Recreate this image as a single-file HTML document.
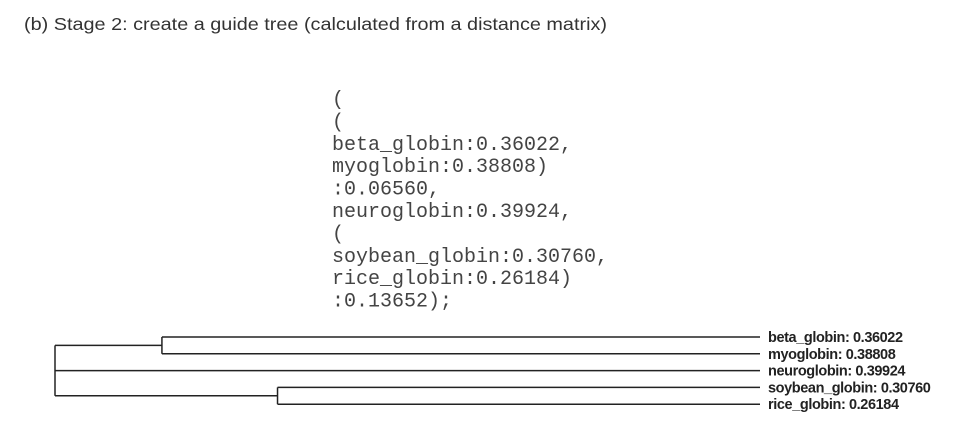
<!DOCTYPE html>
<html><head><meta charset="utf-8"><style>
html,body{margin:0;padding:0;background:#fff;width:968px;height:448px;overflow:hidden}
</style></head><body>
<svg width="968" height="448" viewBox="0 0 968 448">
<text x="24" y="30" font-family="Liberation Sans, sans-serif" font-size="17.5" fill="#333" textLength="583" lengthAdjust="spacingAndGlyphs">(b) Stage 2: create a guide tree (calculated from a distance matrix)</text>
<g id="newick" font-family="Liberation Mono, monospace" font-size="20" fill="#444"></g>
<g id="tree" stroke="#222" stroke-width="1.5" fill="none"></g>
<g id="labels" font-family="Liberation Sans, sans-serif" font-weight="bold" font-size="14.5" fill="#222"></g>
</svg>
<script>
const newickLines = ["(", "(", "beta_globin:0.36022,", "myoglobin:0.38808)", ":0.06560,", "neuroglobin:0.39924,", "(", "soybean_globin:0.30760,", "rice_globin:0.26184)", ":0.13652);"];
const leafNames = ["beta_globin", "myoglobin", "neuroglobin", "soybean_globin", "rice_globin"];
const leafLengths = ["0.36022", "0.38808", "0.39924", "0.30760", "0.26184"];
const cladeLengths = [0.06560, 0.13652];
const NS = "http://www.w3.org/2000/svg";
const ng = document.getElementById('newick');
newickLines.forEach((t, i) => {
  const el = document.createElementNS(NS, 'text');
  
  
  el.setAttribute('x', 332);
  el.setAttribute('y', 105 + i * 22.4);
  el.textContent = t;
  ng.appendChild(el);
});
const rootX = 55, tipX = 760, pxPerUnit = 1630;
const xs = v => rootX + v * pxPerUnit;
const leafY = i => 337 + i * 16.8;
const tg = document.getElementById('tree');
function line(x1, y1, x2, y2, name) {
  const l = document.createElementNS(NS, 'line');
  
  
  l.setAttribute('x1', x1); l.setAttribute('y1', y1);
  l.setAttribute('x2', x2); l.setAttribute('y2', y2);
  tg.appendChild(l);
}
const c1x = xs(cladeLengths[0]), c2x = xs(cladeLengths[1]);
const c1y = (leafY(0) + leafY(1)) / 2, c2y = (leafY(3) + leafY(4)) / 2;
line(rootX, c1y, rootX, c2y, 'root-vertical');
line(rootX, c1y, c1x, c1y, 'clade1-branch');
line(c1x, leafY(0), c1x, leafY(1), 'clade1-vertical');
line(c1x, leafY(0), tipX, leafY(0), 'branch-beta');
line(c1x, leafY(1), tipX, leafY(1), 'branch-myo');
line(rootX, leafY(2), tipX, leafY(2), 'branch-neuro');
line(rootX, c2y, c2x, c2y, 'clade2-branch');
line(c2x, leafY(3), c2x, leafY(4), 'clade2-vertical');
line(c2x, leafY(3), tipX, leafY(3), 'branch-soybean');
line(c2x, leafY(4), tipX, leafY(4), 'branch-rice');
const lg = document.getElementById('labels');
leafNames.forEach((n, i) => {
  const el = document.createElementNS(NS, 'text');
  
  
  el.setAttribute('x', 768);
  el.setAttribute('y', leafY(i) + 5);
  el.setAttribute('letter-spacing', '-0.4');
  el.textContent = n + ': ' + leafLengths[i];
  lg.appendChild(el);
});
</script>
</body></html>
